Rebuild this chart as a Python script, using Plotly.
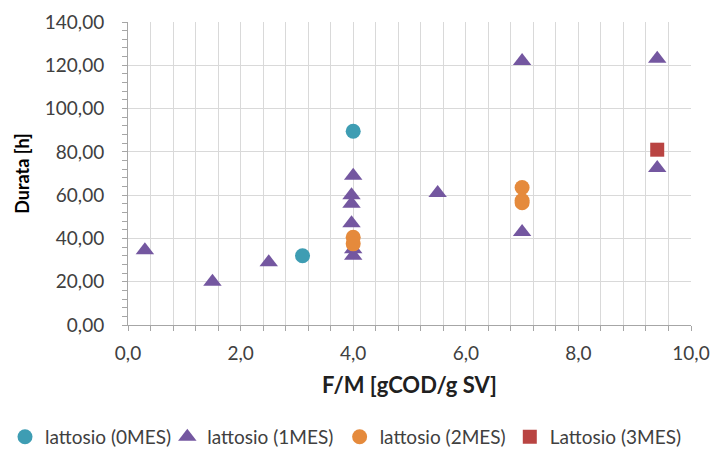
import plotly.graph_objects as go

# F/M ratio [gCOD/g SV] and duration [h] for each lactose series
fm_0mes = [3.1, 4.0]
dur_0mes = [32.0, 89.5]

fm_1mes = [0.3, 1.5, 2.5, 4.0, 3.97, 3.97, 3.97, 4.0, 4.0, 5.5, 7.0, 7.0, 9.4, 9.4]
dur_1mes = [34.5, 20.0, 29.0, 69.0, 60.0, 56.0, 47.0, 35.0, 32.0, 61.0, 122.0, 43.0, 123.0, 72.5]

fm_2mes = [4.0, 4.0, 7.0, 7.0, 7.0]
dur_2mes = [40.5, 37.5, 63.5, 57.5, 56.5]

fm_3mes = [9.4]
dur_3mes = [81.0]

series = [
    ("lattosio (0MES)", fm_0mes, dur_0mes, "circle", "#3E9DB3", 15),
    ("lattosio (1MES)", fm_1mes, dur_1mes, "triangle-up", "#7457A0", 16),
    ("lattosio (2MES)", fm_2mes, dur_2mes, "circle", "#E58A3C", 15),
    ("Lattosio (3MES)", fm_3mes, dur_3mes, "square", "#B94442", 14),
]

# left edge of each legend entry, as a fraction of the page width
legend_x = [0.007, 0.234, 0.475, 0.713]

FONT = "Lato"
TXT = "#404040"
fig = go.Figure()
legend_layout = {}
for i, (name, xs, ys, sym, col, size) in enumerate(series):
    key = "legend" if i == 0 else f"legend{i + 1}"
    fig.add_trace(go.Scatter(
        x=xs, y=ys, mode="markers", name=name, legend=key,
        marker=dict(symbol=sym, color=col, size=size, line=dict(width=0)),
    ))
    legend_layout[key] = dict(
        orientation="h",
        xref="container", x=legend_x[i], xanchor="left",
        yref="container", y=0.029, yanchor="middle",
        font=dict(family=FONT, size=19, color=TXT),
        itemwidth=30, bgcolor="rgba(0,0,0,0)",
    )

grid = "#D9D9D9"
axis_line = "#A6A6A6"
fig.update_layout(
    width=715, height=450,
    margin=dict(l=128, r=24, t=22, b=125),
    paper_bgcolor="white", plot_bgcolor="white",
    separators=",.",
    font=dict(family=FONT, size=19, color=TXT),
    showlegend=True,
    xaxis=dict(
        range=[0, 10], dtick=2, tickformat=".1f",
        showgrid=True, gridcolor=grid, gridwidth=1,
        minor=dict(dtick=0.4, showgrid=True, gridcolor=grid, ticks="outside",
                   ticklen=5, tickcolor=axis_line),
        ticks="outside", ticklen=5, tickcolor=axis_line,
        showline=True, linecolor=axis_line, linewidth=1,
        zeroline=False, automargin=False, ticklabelstandoff=6,
        title=dict(text="<b>F/M [gCOD/g SV]</b>", font=dict(family=FONT, size=22, color="#202020"),
                   standoff=14),
        tickfont=dict(family=FONT, size=19, color=TXT),
    ),
    yaxis=dict(
        range=[0, 140], dtick=20, tickformat=".2f",
        showgrid=True, gridcolor=grid, gridwidth=1,
        minor=dict(dtick=4, showgrid=False, ticks="outside", ticklen=5, tickcolor=axis_line),
        ticks="outside", ticklen=5, tickcolor=axis_line,
        showline=True, linecolor=axis_line, linewidth=1,
        zeroline=False, automargin=False, ticklabelstandoff=14,
        title=dict(text="<b>Durata [h]</b>", font=dict(family=FONT, size=18, color="#000000"),
                   standoff=10),
        tickfont=dict(family=FONT, size=19, color=TXT),
    ),
    **legend_layout,
)

fig.write_html("out.html")
